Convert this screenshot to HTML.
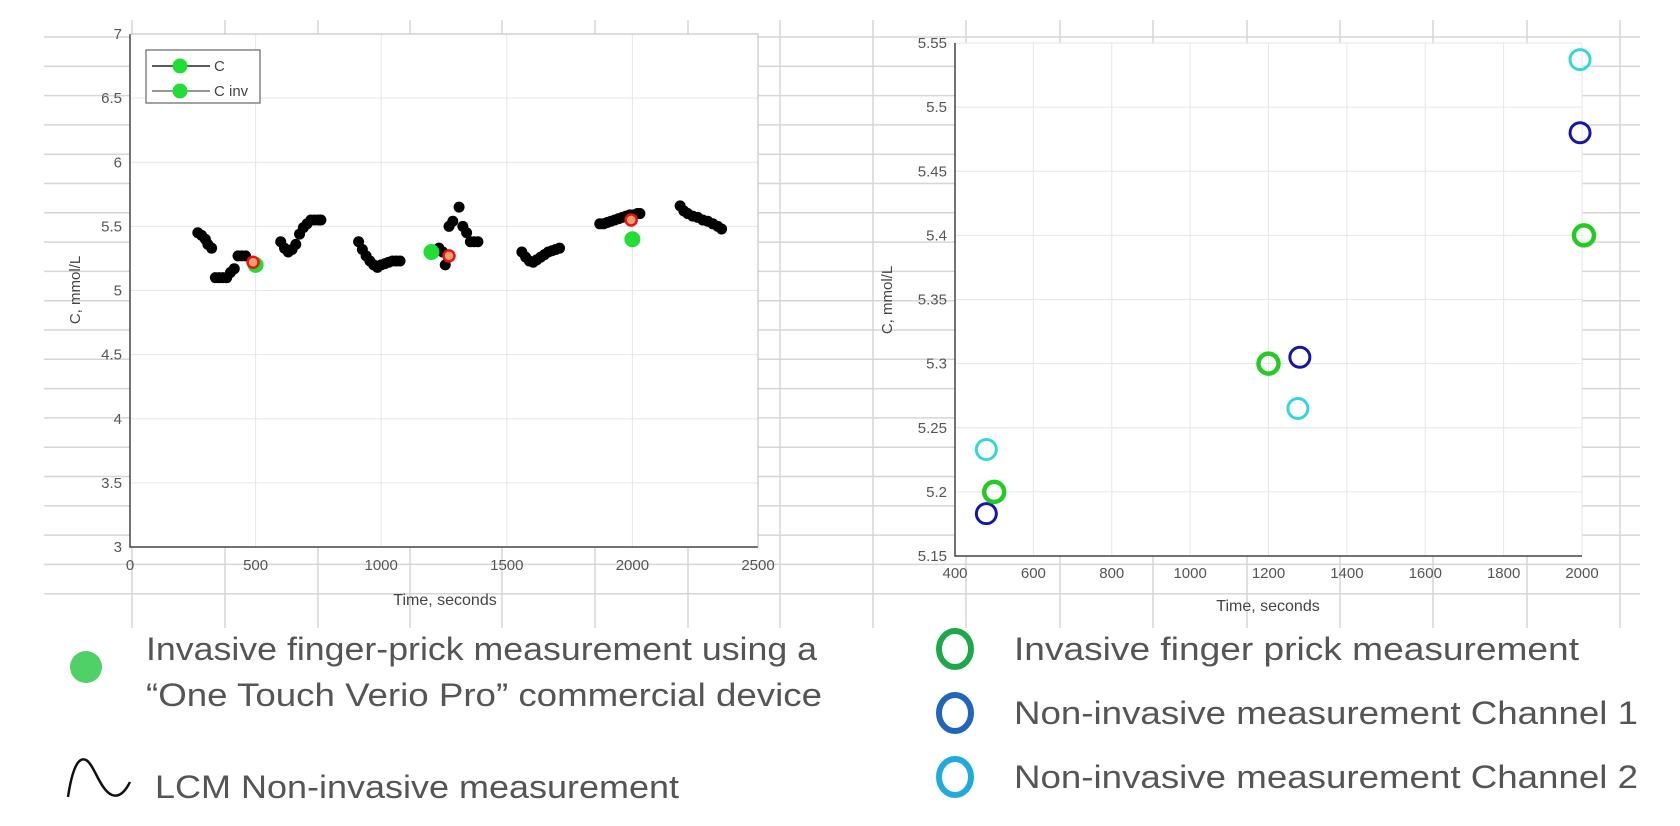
<!DOCTYPE html>
<html><head><meta charset="utf-8"><style>
html,body{margin:0;padding:0;background:#fff;}
svg{display:block;}
text{font-family:"Liberation Sans",sans-serif;}
</style></head><body>
<svg id="s" width="1680" height="826" viewBox="0 0 1680 826" xmlns="http://www.w3.org/2000/svg">
<g id="bg" stroke="#d6d6d6" stroke-width="1.5"></g>
<rect x="130" y="34" width="628" height="513" fill="#fff"/>
<rect x="955" y="43" width="627" height="513" fill="#fff"/>
<g id="grid" stroke="#e6e6e6" stroke-width="1"></g>
<g id="axes" stroke="#444" stroke-width="1.5" fill="none">
<path d="M130 34 V547 H758"/>
<path d="M130 34 H758 V547" stroke="#bbb" stroke-width="1"/>
<path d="M955 43 V556 H1582"/>
</g>
<g id="ticks" font-size="15" fill="#555"></g>
<g id="data"></g>
<text x="445" y="605" font-size="16" fill="#444" text-anchor="middle">Time, seconds</text>
<text x="1268" y="611" font-size="16" fill="#444" text-anchor="middle">Time, seconds</text>
<text transform="translate(80,290) rotate(-90)" font-size="15" fill="#444" text-anchor="middle">C, mmol/L</text>
<text transform="translate(892,300) rotate(-90)" font-size="15" fill="#444" text-anchor="middle">C, mmol/L</text>
<rect x="146" y="50" width="114" height="53" fill="#fff" stroke="#666" stroke-width="1.2"/>
<line x1="152" y1="66" x2="210" y2="66" stroke="#222" stroke-width="1.5"/>
<line x1="152" y1="91" x2="210" y2="91" stroke="#777" stroke-width="1.5"/>
<circle cx="180" cy="66" r="7.5" fill="#22dd33"/>
<circle cx="180" cy="91" r="7.5" fill="#22dd33"/>
<text x="214" y="71" font-size="15" fill="#444">C</text>
<text x="214" y="96" font-size="15" fill="#444">C inv</text>
<circle cx="86" cy="667" r="16" fill="#4fd168"/>
<text x="146" y="660" font-size="32" fill="#555" textLength="671" lengthAdjust="spacingAndGlyphs">Invasive finger-prick measurement using a</text>
<text x="146" y="706" font-size="32" fill="#555" textLength="676" lengthAdjust="spacingAndGlyphs">“One Touch Verio Pro” commercial device</text>
<path d="M68 797 C72 770 78 756 86 760 C94 764 100 790 112 795 C120 798 126 790 130 782" fill="none" stroke="#111" stroke-width="2.5"/>
<text x="155" y="798" font-size="32" fill="#555" textLength="524" lengthAdjust="spacingAndGlyphs">LCM Non-invasive measurement</text>
<ellipse cx="955" cy="649" rx="16" ry="18" fill="none" stroke="#1ea84a" stroke-width="6"/>
<ellipse cx="955" cy="713" rx="16" ry="18" fill="none" stroke="#2266bb" stroke-width="6"/>
<ellipse cx="955" cy="777" rx="16" ry="18" fill="none" stroke="#22aadd" stroke-width="6"/>
<text x="1014" y="660" font-size="32" fill="#555" textLength="565" lengthAdjust="spacingAndGlyphs">Invasive  finger prick measurement</text>
<text x="1014" y="724" font-size="32" fill="#555" textLength="624" lengthAdjust="spacingAndGlyphs">Non-invasive  measurement Channel 1</text>
<text x="1014" y="788" font-size="32" fill="#555" textLength="624" lengthAdjust="spacingAndGlyphs">Non-invasive  measurement Channel 2</text>
</svg>
<script>
const NS="http://www.w3.org/2000/svg";
function el(p,t,a,txt){const e=document.createElementNS(NS,t);for(const k in a)e.setAttribute(k,a[k]);if(txt!==undefined)e.textContent=txt;document.getElementById(p).appendChild(e);return e;}
for(let y=37;y<=620;y+=29.3){el("bg","line",{x1:44,x2:1640,y1:y,y2:y});}
const vx=[132,225,318,410,502,595,688,780,873,966,1060,1153,1247,1340,1433,1527,1620];
vx.forEach(x=>el("bg","line",{x1:x,x2:x,y1:20,y2:628}));
const LX=t=>130+t*628/2500, LY=v=>547-(v-3)*128.25;
for(let t=0;t<=2500;t+=500){const x=LX(t);el("grid","line",{x1:x,x2:x,y1:34,y2:547});el("ticks","text",{x:x,y:570,"text-anchor":"middle"},String(t));}
for(let v=3;v<=7.001;v+=0.5){const y=LY(v);el("grid","line",{x1:130,x2:758,y1:y,y2:y});el("ticks","text",{x:122,y:y+5,"text-anchor":"end"},String(Math.round(v*10)/10));}
const RX=t=>955+(t-400)*627/1600, RY=v=>556-(v-5.15)*1282.5;
for(let t=400;t<=2000;t+=200){const x=RX(t);el("grid","line",{x1:x,x2:x,y1:43,y2:556});el("ticks","text",{x:x,y:578,"text-anchor":"middle"},String(t));}
for(let i=0;i<=8;i++){const v=5.15+i*0.05;const y=RY(v);el("grid","line",{x1:955,x2:1582,y1:y,y2:y});el("ticks","text",{x:947,y:y+5,"text-anchor":"end"},v.toFixed(2).replace(/0$/,''));}
const segs=[
[[270,5.45],[285,5.43],[300,5.4],[310,5.36],[325,5.33],[340,5.1],[355,5.1],[370,5.1],[385,5.1],[400,5.14],[415,5.17],[430,5.27],[445,5.27],[460,5.27]],
[[600,5.38],[615,5.33],[630,5.3],[645,5.32],[660,5.36],[675,5.44],[690,5.49],[705,5.52],[720,5.55],[735,5.55],[750,5.55],[760,5.55]],
[[910,5.38],[925,5.32],[940,5.27],[955,5.23],[970,5.2],[985,5.18],[1000,5.2],[1015,5.21],[1030,5.22],[1045,5.23],[1060,5.23],[1075,5.23]],
[[1230,5.33],[1245,5.3],[1255,5.2],[1270,5.5],[1285,5.54],[1310,5.65],[1325,5.5],[1340,5.45],[1355,5.38],[1370,5.38],[1385,5.38]],
[[1560,5.3],[1575,5.26],[1590,5.23],[1605,5.22],[1620,5.24],[1635,5.26],[1650,5.28],[1665,5.3],[1680,5.31],[1695,5.32],[1710,5.33]],
[[1870,5.52],[1885,5.52],[1900,5.53],[1915,5.54],[1930,5.55],[1945,5.56],[1960,5.57],[1975,5.58],[1990,5.59],[2005,5.59],[2020,5.6],[2030,5.6]],
[[2190,5.66],[2205,5.62],[2220,5.6],[2240,5.58],[2260,5.57],[2280,5.55],[2300,5.54],[2320,5.52],[2340,5.5],[2355,5.48]]];
segs.forEach(s=>s.forEach(p=>el("data","circle",{cx:LX(p[0]),cy:LY(p[1]),r:5.5,fill:"#000"})));
[[500,5.2],[1200,5.3],[2000,5.4]].forEach(p=>el("data","circle",{cx:LX(p[0]),cy:LY(p[1]),r:8,fill:"#22dd33"}));
[[490,5.22],[1270,5.27],[1995,5.55]].forEach(p=>el("data","circle",{cx:LX(p[0]),cy:LY(p[1]),r:5.5,fill:"#f5a070",stroke:"#ee1111","stroke-width":2.5}));
const rc=(t,v,c,w)=>el("data","circle",{cx:RX(t),cy:RY(v),r:10,fill:"none",stroke:c,"stroke-width":w});
rc(480,5.233,"#33d6dd",3);rc(1275,5.265,"#33d6dd",3);rc(1995,5.537,"#33d6dd",3);
rc(480,5.183,"#1515aa",3);rc(1280,5.305,"#1515aa",3);rc(1995,5.48,"#1515aa",3);
rc(500,5.2,"#22cc22",4.5);rc(1200,5.3,"#22cc22",4.5);rc(2005,5.4,"#22cc22",4.5);
</script>
</body></html>
